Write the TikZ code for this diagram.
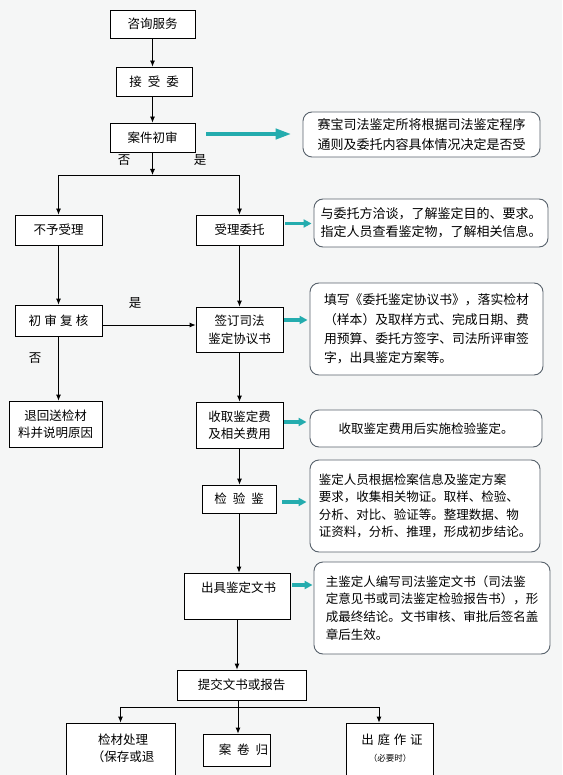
\documentclass[tikz,border=0pt]{standalone}
\usepackage{fontspec}
\setmainfont{Noto Sans CJK SC}
\usetikzlibrary{arrows.meta}
\definecolor{bgc}{RGB}{245,246,246}
\definecolor{tealc}{RGB}{36,172,174}
\definecolor{rborder}{RGB}{88,98,108}
\tikzset{
  sz/.style 2 args={minimum width=#1pt, minimum height=#2pt},
  box/.style={draw=black, fill=white, line width=0.8pt, inner sep=0pt, align=center, font=\fontsize{12.5}{17}\selectfont},
  rbox/.style={draw=rborder, fill=white, line width=0.9pt, rounded corners=9pt, inner sep=0pt, align=left},
  txt/.style={inner sep=0pt, align=center, font=\fontsize{12.5}{17}\selectfont},
  arr/.style={draw=black, line width=0.8pt, -{Latex[length=6pt,width=5pt]}},
  ln/.style={draw=black, line width=0.8pt},
  tbig/.style={draw=tealc, line width=4.5pt, -{Triangle[length=16pt,width=10pt]}},
  tsmall/.style={draw=tealc, line width=3.5pt, -{Triangle[length=8pt,width=8pt]}},
  lbl/.style={inner sep=0pt, font=\fontsize{12.5}{15}\selectfont}
}
\begin{document}
\begin{tikzpicture}[x=1pt,y=-1pt]
\useasboundingbox (0,0) rectangle (562,775);
\clip (0,0) rectangle (562,775);
\fill[bgc] (0,0) rectangle (562,775);

% main flow boxes
\node[box, sz={85}{28}] (zixun) at (152.5,24) {咨询服务};
\node[box, sz={76}{29}] (jieshou) at (154,81.5) {接\hspace{6pt}受\hspace{6pt}委};
\node[box, sz={85}{29}] (shen) at (152.5,137.5) {案件初审};
\node[box, sz={87}{30}] (buyu) at (58.5,230) {不予受理};
\node[box, sz={87}{30}] (shouli) at (239.5,230) {受理委托};
\node[box, sz={87}{31}] (fuhe) at (58.5,320.5) {初\hspace{3.3pt}审\hspace{3.3pt}复\hspace{3.3pt}核};
\node[box, sz={87}{45}, font=\fontsize{12.5}{18}\selectfont] (qianding) at (239.5,329.5) {签订司法\\鉴定协议书};
\node[box, sz={93}{46}] (tuihui) at (55.5,424) {退回送检材\\料并说明原因};
\node[box, sz={87}{46}] (shouqu) at (239.5,425) {收取鉴定费\\及相关费用};
\node[box, sz={74}{28}] (jianyan) at (239,499) {检\hspace{6pt}验\hspace{6pt}鉴};
\node[box, sz={106}{46}] (chuju) at (237,596) {};
\node[txt] (chujut) at (238.5,588) {出具鉴定文书};
\node[box, sz={129}{30}] (tijiao) at (241.5,685) {提交文书或报告};
\node[box, sz={109}{62}] (jiancai) at (120.5,754) {};
\node[txt] (jiancait) at (123,748.5) {检材处理\\（保存或退};
\node[box, sz={67}{32}] (anjuan) at (236.5,750) {\hspace*{14pt}案\hspace{6pt}卷\hspace{6pt}归};
\node[box, sz={87}{62}] (chuting) at (389.5,754) {};
\node[txt] (chutingt) at (392,740) {出\hspace{3.7pt}庭\hspace{3.7pt}作\hspace{3.7pt}证};
\node[txt, font=\fontsize{8.5}{10}\selectfont] (chutings) at (390,758) {（必要时）};

% right-side notes
\node[rbox, sz={237}{45}, font=\fontsize{13}{20}\selectfont] (r1) at (421.5,134.5)
  {赛宝司法鉴定所将根据司法鉴定程序\\通则及委托内容具体情况决定是否受};
\node[rbox, sz={234}{48}, font=\fontsize{13}{18}\selectfont] (r2) at (431,223)
  {与委托方洽谈，了解鉴定目的、要求。\\指定人员查看鉴定物，了解相关信息。};
\node[rbox, sz={233}{92}, font=\fontsize{12.8}{19.3}\selectfont] (r3) at (426.5,329)
  {填写《委托鉴定协议书》，落实检材\\（样本）及取样方式、完成日期、费\\用预算、委托方签字、司法所评审签\\字，出具鉴定方案等。};
\node[rbox, sz={232}{37}, font=\fontsize{12.5}{17}\selectfont] (r4) at (426,428.5)
  {收取鉴定费用后实施检验鉴定。};
\node[rbox, sz={230}{92}, font=\fontsize{12.5}{17.3}\selectfont] (r5) at (425,506)
  {鉴定人员根据检案信息及鉴定方案\\要求，收集相关物证。取样、检验、\\分析、对比、验证等。整理数据、物\\证资料，分析、推理，形成初步结论。};
\node[rbox, sz={236}{92}, font=\fontsize{12.5}{17.7}\selectfont] (r6) at (432,608)
  {主鉴定人编写司法鉴定文书（司法鉴\\定意见书或司法鉴定检验报告书），形\\成最终结论。文书审核、审批后签名盖\\章后生效。};

% labels
\node[lbl] (l1) at (124,160) {否};
\node[lbl] (l2) at (200,160) {是};
\node[lbl] (l3) at (135,303) {是};
\node[lbl] (l4) at (35,358) {否};

% black connectors
\draw[arr] (zixun) -- (zixun |- jieshou.north);
\draw[arr] (shen |- jieshou.south) -- (shen.north);
\coordinate (j1) at (152.5,175);
\draw[arr] (shen) -- (j1);
\draw[arr] (j1) -| (buyu);
\draw[arr] (j1) -| (shouli);
\draw[arr] (buyu) -- (fuhe);
\draw[arr] (fuhe) -- (fuhe |- tuihui.north);
\coordinate (f1) at ([yshift=-4.5pt]fuhe.east);
\draw[arr] (f1) -- (f1 -| qianding.west);
\draw[arr] (shouli) -- (qianding);
\draw[arr] (qianding) -- (shouqu);
\draw[arr] (shouqu) -- (shouqu |- jianyan.north);
\draw[arr] (jianyan) -- (jianyan |- chuju.north);
\draw[arr] (chuju) -- (chuju |- tijiao.north);
\coordinate (j2) at (238,707);
\coordinate (jr) at (379,707);
\draw[arr] (tijiao.south -| j2) -- (j2 |- anjuan.north);
\draw[arr] (j2) -| (jiancai);
\draw[arr] (j2) -- (jr) -- (jr |- chuting.north);

% teal arrows
\coordinate (a1) at ([yshift=3.5pt]shen.east);
\draw[tbig, shorten <=11pt, shorten >=11pt] (a1) -- (a1 -| r1.west);
\coordinate (a2) at ([yshift=6.5pt]shouli.east);
\draw[tsmall, shorten <=2pt, shorten >=2pt] (a2) -- (a2 -| r2.west);
\coordinate (a3) at ([yshift=9.5pt]qianding.east);
\draw[tsmall, shorten <=1pt, shorten >=2pt] (a3) -- (a3 -| r3.west);
\coordinate (a4) at ([yshift=3pt]shouqu.east);
\draw[tsmall, shorten <=1pt, shorten >=3pt] (a4) -- (a4 -| r4.west);
\coordinate (a5) at ([yshift=-3pt]jianyan.east);
\draw[tsmall, shorten <=6pt, shorten >=3pt] (a5) -- (a5 -| r5.west);
\coordinate (a6) at ([yshift=11pt]chuju.east);
\draw[tsmall, shorten <=2pt, shorten >=1pt] (a6) -- (a6 -| r6.west);
\end{tikzpicture}
\end{document}
